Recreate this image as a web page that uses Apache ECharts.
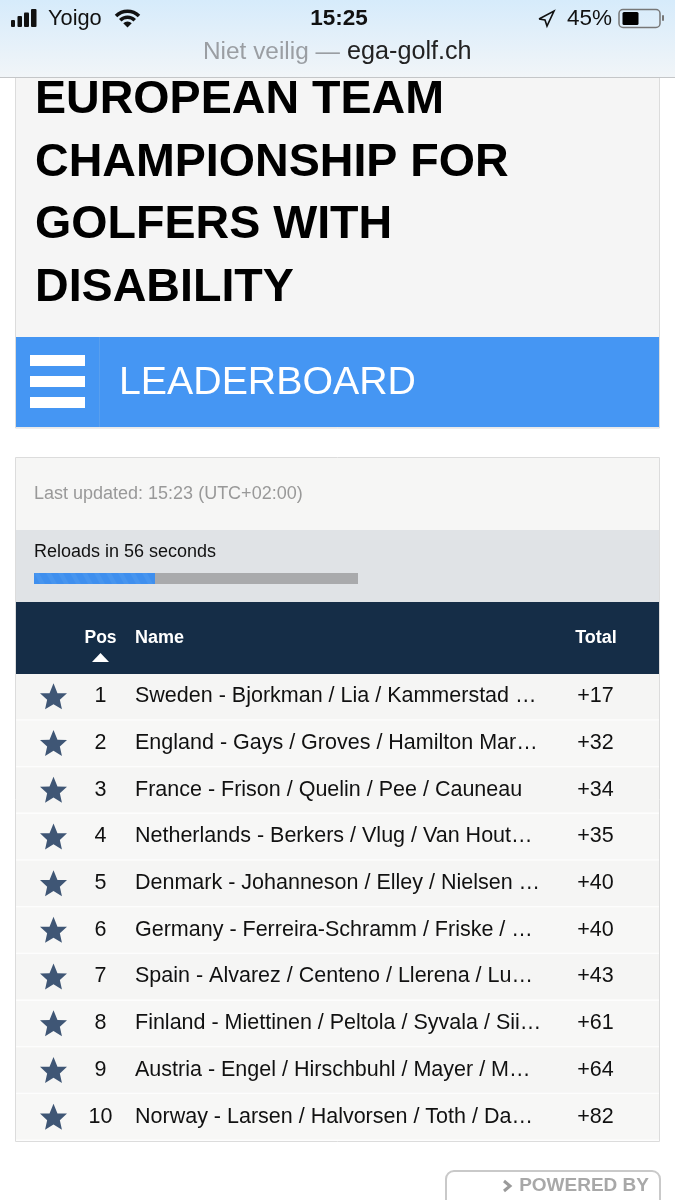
<!DOCTYPE html>
<html>
<head>
<meta charset="utf-8">
<title>leaderboard</title>
<style>
html,body{margin:0;padding:0;background:#fff;}
#container{width:675px;height:1200px;}
</style>
</head>
<body>
<div id="container"></div>
<script src="https://cdn.jsdelivr.net/npm/echarts@6/dist/echarts.min.js"></script>
<script>
var positions = [1, 2, 3, 4, 5, 6, 7, 8, 9, 10];
var names = [
    'Sweden - Bjorkman / Lia / Kammerstad …',
    'England - Gays / Groves / Hamilton Mar…',
    'France - Frison / Quelin / Pee / Cauneau',
    'Netherlands - Berkers / Vlug / Van Hout…',
    'Denmark - Johanneson / Elley / Nielsen …',
    'Germany - Ferreira-Schramm / Friske / …',
    'Spain - Alvarez / Centeno / Llerena / Lu…',
    'Finland - Miettinen / Peltola / Syvala / Sii…',
    'Austria - Engel / Hirschbuhl / Mayer / M…',
    'Norway - Larsen / Halvorsen / Toth / Da…'
];
var totals = [17, 32, 34, 35, 40, 40, 43, 61, 64, 82];
var titleLines = ['EUROPEAN TEAM', 'CHAMPIONSHIP FOR', 'GOLFERS WITH', 'DISABILITY'];

var FONT = '"Liberation Sans", Arial, sans-serif';
var STAR = 'M0,-14 L4,-4.4 L13.6,-4.3 L6.4,2.2 L8.5,11.5 L0,6.4 L-8.5,11.5 L-6.4,2.2 L-13.6,-4.3 L-4,-4.4 Z';

function rect(x, y, w, h, fill, extra) {
    var el = {type: 'rect', z: 1, shape: {x: x, y: y, width: w, height: h}, style: {fill: fill}};
    if (extra) {
        el.style.stroke = extra;
        el.style.lineWidth = 1;
    }
    return el;
}
function label(text, x, y, font, color, align) {
    return {type: 'text', z: 2, x: x, y: y, style: {
        text: text, font: font + ' ' + FONT, fill: color,
        align: align || 'left', verticalAlign: 'middle'
    }};
}
function wifiArc(r0, r) {
    return {type: 'sector', z: 4, shape: {
        cx: 127.5, cy: 27.5, r0: r0, r: r,
        startAngle: -Math.PI * 0.75, endAngle: -Math.PI * 0.25
    }, style: {fill: '#111'}};
}

var chrome = [];
// cards
chrome.push(rect(15.5, 70, 644, 358, '#f5f5f5', '#dcdcdc'));
chrome.push(rect(15.5, 457.5, 644, 684, '#f6f6f5', '#dcdcdc'));
titleLines.forEach(function (t, i) {
    chrome.push(label(t, 35, [100, 163, 225, 288.5][i], 'bold 46.6px', '#000'));
});
// blue header
chrome.push(rect(16, 337, 643, 90, '#4596f3'));
chrome.push(rect(99, 337, 1, 90, '#589fef'));
[355, 376, 397].forEach(function (y) {
    chrome.push(rect(30, y, 55, 11, '#fff'));
});
chrome.push(label('LEADERBOARD', 119, 383, '39.3px', '#fff'));
// update info
chrome.push(label('Last updated: 15:23 (UTC+02:00)', 34, 494, '18px', '#999'));
chrome.push(rect(16, 530, 643, 72, '#e0e3e6'));
chrome.push(label('Reloads in 56 seconds', 34, 552, '18px', '#111'));
chrome.push(rect(34, 573, 324, 11, '#a9aaac'));
chrome.push(rect(34, 573, 121, 11, '#3f8fee'));
for (var sx = 34; sx < 144; sx += 12) {
    chrome.push({type: 'polygon', z: 2, shape: {points: [[sx, 573], [sx + 5, 573], [sx + 11, 584], [sx + 6, 584]]}, style: {fill: '#4795ef'}});
}
// table head
chrome.push(rect(16, 602, 643, 72, '#152d47'));
chrome.push(label('Pos', 100.5, 638, 'bold 17.5px', '#fff', 'center'));
chrome.push(label('Name', 135, 638, 'bold 18px', '#fff'));
chrome.push(label('Total', 596, 638, 'bold 18px', '#fff', 'center'));
chrome.push({type: 'polygon', z: 2, shape: {points: [[92, 662], [109, 662], [100.5, 653]]}, style: {fill: '#fff'}});
// powered by box
chrome.push({type: 'rect', z: 1, shape: {x: 446, y: 1171, width: 214, height: 50, r: 8}, style: {fill: '#fff', stroke: '#c9c9c9', lineWidth: 2}});
chrome.push(label('POWERED BY', 649, 1186, 'bold 19px', '#a8a8a8', 'right'));
chrome.push({type: 'polyline', z: 2, shape: {points: [[504, 1181], [510, 1186], [504, 1191]]}, style: {stroke: '#9a9a9a', lineWidth: 3, fill: 'none'}});
// status bar
chrome.push({type: 'rect', z: 3, shape: {x: 0, y: 0, width: 675, height: 77}, style: {
    fill: new echarts.graphic.LinearGradient(0, 0, 0, 1, [
        {offset: 0, color: '#d6ebfb'},
        {offset: 1, color: '#f1f5f8'}
    ])
}});
chrome.push({type: 'rect', z: 3, shape: {x: 0, y: 77, width: 675, height: 1}, style: {fill: '#c4c6c8'}});
[[11, 20, 4], [17.5, 16, 4.5], [24, 12.5, 5], [31, 9, 5.5]].forEach(function (b) {
    chrome.push({type: 'rect', z: 4, shape: {x: b[0], y: b[1], width: b[2], height: 27 - b[1], r: 1}, style: {fill: '#111'}});
});
chrome.push(Object.assign(label('Yoigo', 48, 19, '21.8px', '#111'), {z: 4}));
chrome.push(wifiArc(0, 6));
chrome.push(wifiArc(8.5, 12));
chrome.push(wifiArc(14.5, 18));
chrome.push(Object.assign(label('15:25', 339, 19, 'bold 22.5px', '#111', 'center'), {z: 4}));
chrome.push({type: 'polyline', z: 4, shape: {points: [[539, 19], [554, 11], [547, 26], [545, 20], [539, 19]]}, style: {stroke: '#111', lineWidth: 1.6, fill: 'none'}});
chrome.push(Object.assign(label('45%', 567, 19, '22.5px', '#111'), {z: 4}));
chrome.push({type: 'rect', z: 4, shape: {x: 619, y: 9.5, width: 41, height: 18, r: 4}, style: {fill: 'none', stroke: '#777', lineWidth: 1.5}});
chrome.push({type: 'rect', z: 4, shape: {x: 622.5, y: 12, width: 16, height: 13, r: 1.5}, style: {fill: '#000'}});
chrome.push({type: 'rect', z: 4, shape: {x: 662, y: 15, width: 2, height: 6, r: 1}, style: {fill: '#777'}});
chrome.push(Object.assign(label('Niet veilig —', 203, 52, '24.4px', '#9a9ea3'), {z: 4}));
chrome.push(Object.assign(label('ega-golf.ch', 347, 52, '25.2px', '#222'), {z: 4}));

function renderRow(params, api) {
    var i = params.dataIndex;
    var c = api.coord([0, i]);
    var h = api.size([0, 1])[1];
    var y = c[1];
    var left = params.coordSys.x;
    var w = params.coordSys.width;
    var font = '21.5px ' + FONT;
    return {
        type: 'group',
        children: [
            {type: 'rect', shape: {x: left, y: y - h / 2, width: w, height: h - 1.5}, style: {fill: i % 2 ? '#f7f7f6' : '#f5f5f4'}},
            {type: 'rect', shape: {x: left, y: y + h / 2 - 1.5, width: w, height: 1.5}, style: {fill: '#fdfdfd'}},
            {type: 'path', shape: {pathData: STAR, layout: 'cover', x: 40, y: y - 14, width: 27, height: 26}, style: {fill: '#3f5675'}},
            {type: 'text', x: 100.5, y: y - 1, style: {text: String(api.value(1)), font: font, fill: '#111', align: 'center', verticalAlign: 'middle'}},
            {type: 'text', x: 135, y: y - 1, style: {text: names[i], font: font, fill: '#111', align: 'left', verticalAlign: 'middle'}},
            {type: 'text', x: 595.5, y: y - 1, style: {text: '+' + api.value(2), font: font, fill: '#111', align: 'center', verticalAlign: 'middle'}}
        ]
    };
}

var option = {
    animation: false,
    backgroundColor: '#fff',
    grid: {left: 16, top: 674, width: 643, height: 467},
    xAxis: {type: 'value', min: 0, max: 1, show: false},
    yAxis: {type: 'category', inverse: true, data: names, show: false},
    graphic: chrome,
    series: [{
        type: 'custom',
        z: 5,
        renderItem: renderRow,
        encode: {x: 0, y: 3},
        data: positions.map(function (p, i) {
            return [0, p, totals[i], i];
        })
    }]
};
var myChart = echarts.init(document.getElementById('container'));
myChart.setOption(option);
</script>
</body>
</html>
